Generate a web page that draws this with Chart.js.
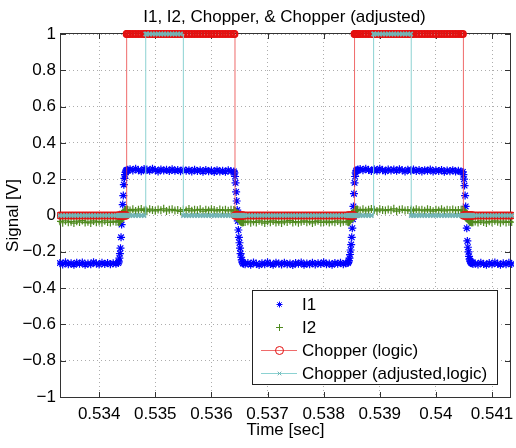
<!DOCTYPE html>
<html>
<head>
<meta charset="utf-8">
<script src="https://cdn.jsdelivr.net/npm/chart.js@4.4.1/dist/chart.umd.min.js"></script>
<style>
  html, body { margin: 0; padding: 0; background: #fff; }
  canvas { display: block; }
</style>
</head>
<body>
<canvas id="chart" width="516" height="448"></canvas>
<script>
const FONT = "'Liberation Sans', Arial, Helvetica, sans-serif";

const titleText = 'I1, I2, Chopper, & Chopper (adjusted)';
const xTitle = 'Time [sec]';
const yTitle = 'Signal [V]';
const seriesNames = ['I1', 'I2', 'Chopper (logic)', 'Chopper (adjusted,logic)'];

const xTicks = [0.534, 0.535, 0.536, 0.537, 0.538, 0.539, 0.540, 0.541];
const xTickLabels = ['0.534', '0.535', '0.536', '0.537', '0.538', '0.539', '0.54', '0.541'];
const yTicks = [-1, -0.8, -0.6, -0.4, -0.2, 0, 0.2, 0.4, 0.6, 0.8, 1];
const yTickLabels = ['\u22121', '\u22120.8', '\u22120.6', '\u22120.4', '\u22120.2', '0', '0.2', '0.4', '0.6', '0.8', '1'];

// sample times [sec]
const time = [
  // low
  0.5333, 0.53335, 0.5334, 0.53345, 0.5335, 0.53355, 0.5336, 0.53365, 0.5337, 0.53375,
  0.5338, 0.53385, 0.5339, 0.53395, 0.534, 0.53405, 0.5341, 0.53415, 0.5342, 0.53425,
  0.5343,
  // rising edge 1
  0.53434, 0.53435, 0.53436, 0.53437, 0.53438, 0.53439, 0.5344, 0.53441, 0.53442, 0.53443,
  0.53444, 0.53445, 0.53446, 0.53447, 0.53448, 0.53449, 0.5345, 0.53451,
  // high 1
  0.53455, 0.5346, 0.53465, 0.5347, 0.53475, 0.5348, 0.53483, 0.53485, 0.5349, 0.53495,
  0.535, 0.53505, 0.5351, 0.53515, 0.5352, 0.53525, 0.5353, 0.53535, 0.5354, 0.53545,
  0.5355, 0.53555, 0.5356, 0.53565, 0.5357, 0.53575, 0.5358, 0.53585, 0.5359, 0.53595,
  0.536, 0.53605, 0.5361, 0.53615, 0.5362, 0.53625, 0.5363, 0.53635,
  // falling edge 1
  0.5364, 0.53641, 0.53642, 0.53643, 0.53644, 0.53645, 0.53646, 0.53647, 0.53648, 0.53649,
  0.5365, 0.53651, 0.53652, 0.53653, 0.53654, 0.53655, 0.53656, 0.53657,
  // low
  0.5366, 0.53665, 0.5367, 0.53675, 0.5368, 0.53685, 0.5369, 0.53695, 0.537, 0.53705,
  0.5371, 0.53715, 0.5372, 0.53725, 0.5373, 0.53735, 0.5374, 0.53745, 0.5375, 0.53755,
  0.5376, 0.53765, 0.5377, 0.53775, 0.5378, 0.53785, 0.5379, 0.53795, 0.538, 0.53805,
  0.5381, 0.53815, 0.5382, 0.53825, 0.5383, 0.53835, 0.5384,
  // rising edge 2
  0.53843, 0.53844, 0.53845, 0.53846, 0.53847, 0.53848, 0.53849, 0.5385, 0.53851, 0.53852,
  0.53853, 0.53854, 0.53855, 0.53856, 0.53857, 0.53858, 0.53859, 0.5386, 0.53861,
  // high 2
  0.53865, 0.5387, 0.53875, 0.5388, 0.53885, 0.53889, 0.5389, 0.53895, 0.539, 0.53905,
  0.5391, 0.53915, 0.5392, 0.53925, 0.5393, 0.53935, 0.5394, 0.53945, 0.5395, 0.53955,
  0.53956, 0.5396, 0.53965, 0.5397, 0.53975, 0.5398, 0.53985, 0.5399, 0.53995, 0.54,
  0.54005, 0.5401, 0.54015, 0.5402, 0.54025, 0.5403, 0.54035, 0.5404, 0.54045,
  // falling edge 2
  0.54048, 0.54049, 0.5405, 0.54051, 0.54052, 0.54053, 0.54054, 0.54055, 0.54056, 0.54057,
  0.54058, 0.54059, 0.5406, 0.54061, 0.54062, 0.54063, 0.54064, 0.54065, 0.54066,
  // low
  0.5407, 0.54075, 0.5408, 0.54085, 0.5409, 0.54095, 0.541, 0.54105, 0.5411, 0.54115,
  0.5412, 0.54125, 0.5413, 0.54135
];

const i1 = [
  -0.262, -0.270, -0.258, -0.268, -0.263, -0.272, -0.260, -0.266, -0.259, -0.271,
  -0.264, -0.268, -0.257, -0.265, -0.270, -0.261, -0.267, -0.262, -0.269, -0.263,
  -0.266,
  -0.262, -0.255, -0.235, -0.21, -0.18, -0.12, -0.05, 0.01, 0.06, 0.11,
  0.17, 0.205, 0.225, 0.238, 0.245, 0.25, 0.247, 0.252,
  0.255, 0.248, 0.258, 0.250, 0.244, 0.256, 0.249, 0.253, 0.246, 0.257,
  0.250, 0.243, 0.254, 0.248, 0.252, 0.245, 0.255, 0.247, 0.251, 0.244,
  0.253, 0.246, 0.250, 0.242, 0.252, 0.245, 0.249, 0.241, 0.251, 0.244,
  0.248, 0.240, 0.250, 0.243, 0.247, 0.241, 0.249, 0.244,
  0.243, 0.235, 0.215, 0.18, 0.13, 0.08, 0.03, -0.03, -0.08, -0.12,
  -0.15, -0.18, -0.21, -0.23, -0.245, -0.255, -0.262, -0.266,
  -0.268, -0.262, -0.271, -0.259, -0.266, -0.273, -0.263, -0.269, -0.258, -0.267,
  -0.272, -0.261, -0.265, -0.270, -0.260, -0.268, -0.264, -0.273, -0.262, -0.266,
  -0.259, -0.271, -0.265, -0.268, -0.261, -0.270, -0.263, -0.267, -0.258, -0.269,
  -0.264, -0.272, -0.262, -0.266, -0.260, -0.268, -0.263,
  -0.262, -0.258, -0.25, -0.235, -0.215, -0.19, -0.16, -0.12, -0.07, -0.02,
  0.05, 0.12, 0.18, 0.215, 0.235, 0.245, 0.25, 0.248, 0.253,
  0.256, 0.249, 0.258, 0.251, 0.245, 0.250, 0.255, 0.247, 0.257, 0.250,
  0.244, 0.254, 0.248, 0.253, 0.246, 0.255, 0.249, 0.243, 0.252, 0.247,
  0.250, 0.254, 0.245, 0.251, 0.243, 0.250, 0.246, 0.253, 0.242, 0.249,
  0.245, 0.251, 0.241, 0.248, 0.244, 0.250, 0.242, 0.247, 0.243,
  0.24, 0.225, 0.2, 0.165, 0.11, 0.05, 0.0, -0.07, -0.14, -0.175,
  -0.2, -0.225, -0.24, -0.25, -0.256, -0.26, -0.263, -0.259, -0.267,
  -0.264, -0.270, -0.260, -0.267, -0.272, -0.262, -0.268, -0.259, -0.266, -0.271,
  -0.263, -0.269, -0.261, -0.267
];

const i2 = [
  -0.032, -0.040, -0.029, -0.037, -0.034, -0.042, -0.031, -0.036, -0.028, -0.039,
  -0.035, -0.041, -0.030, -0.037, -0.033, -0.040, -0.029, -0.036, -0.038, -0.031,
  -0.035,
  -0.034, -0.037, -0.033, -0.030, -0.026, -0.020, -0.012, -0.004, 0.004, 0.012,
  0.018, 0.023, 0.027, 0.029, 0.031, 0.028, 0.033, 0.030,
  0.027, 0.034, 0.025, 0.031, 0.036, 0.028, 0.032, 0.024, 0.035, 0.030,
  0.026, 0.033, 0.029, 0.037, 0.025, 0.031, 0.034, 0.027, 0.030, 0.023,
  0.033, 0.028, 0.036, 0.026, 0.031, 0.029, 0.034, 0.024, 0.032, 0.027,
  0.035, 0.030, 0.025, 0.033, 0.028, 0.031, 0.026, 0.032,
  0.030, 0.028, 0.025, 0.020, 0.014, 0.007, 0.000, -0.008, -0.015, -0.021,
  -0.026, -0.030, -0.033, -0.035, -0.037, -0.034, -0.038, -0.036,
  -0.036, -0.031, -0.040, -0.033, -0.038, -0.029, -0.035, -0.042, -0.032, -0.037,
  -0.030, -0.039, -0.034, -0.041, -0.031, -0.036, -0.028, -0.038, -0.033, -0.040,
  -0.035, -0.030, -0.037, -0.032, -0.041, -0.034, -0.029, -0.038, -0.036, -0.031,
  -0.039, -0.033, -0.037, -0.030, -0.040, -0.035, -0.032,
  -0.034, -0.037, -0.033, -0.031, -0.028, -0.024, -0.018, -0.011, -0.003, 0.005,
  0.012, 0.018, 0.023, 0.027, 0.029, 0.031, 0.028, 0.033, 0.030,
  0.028, 0.034, 0.026, 0.031, 0.036, 0.029, 0.032, 0.025, 0.035, 0.030,
  0.027, 0.033, 0.029, 0.037, 0.024, 0.031, 0.034, 0.028, 0.030, 0.025,
  0.033, 0.027, 0.035, 0.029, 0.031, 0.026, 0.034, 0.030, 0.024, 0.032,
  0.028, 0.035, 0.026, 0.031, 0.029, 0.033, 0.027, 0.030, 0.032,
  0.031, 0.029, 0.026, 0.021, 0.015, 0.008, 0.001, -0.007, -0.014, -0.020,
  -0.025, -0.029, -0.032, -0.034, -0.036, -0.033, -0.038, -0.035, -0.037,
  -0.033, -0.039, -0.030, -0.036, -0.041, -0.032, -0.037, -0.029, -0.035, -0.040,
  -0.031, -0.038, -0.034, -0.036
];

const chopper = [
  0, 0, 0, 0, 0, 0, 0, 0, 0, 0,
  0, 0, 0, 0, 0, 0, 0, 0, 0, 0,
  0,
  0, 0, 0, 0, 0, 0, 0, 0, 0, 0,
  0, 0, 0, 0, 0, 1, 1, 1,
  1, 1, 1, 1, 1, 1, 1, 1, 1, 1,
  1, 1, 1, 1, 1, 1, 1, 1, 1, 1,
  1, 1, 1, 1, 1, 1, 1, 1, 1, 1,
  1, 1, 1, 1, 1, 1, 1, 1,
  1, 1, 0, 0, 0, 0, 0, 0, 0, 0,
  0, 0, 0, 0, 0, 0, 0, 0,
  0, 0, 0, 0, 0, 0, 0, 0, 0, 0,
  0, 0, 0, 0, 0, 0, 0, 0, 0, 0,
  0, 0, 0, 0, 0, 0, 0, 0, 0, 0,
  0, 0, 0, 0, 0, 0, 0,
  0, 0, 0, 0, 0, 0, 0, 0, 0, 0,
  0, 0, 1, 1, 1, 1, 1, 1, 1,
  1, 1, 1, 1, 1, 1, 1, 1, 1, 1,
  1, 1, 1, 1, 1, 1, 1, 1, 1, 1,
  1, 1, 1, 1, 1, 1, 1, 1, 1, 1,
  1, 1, 1, 1, 1, 1, 1, 1, 1,
  1, 0, 0, 0, 0, 0, 0, 0, 0, 0,
  0, 0, 0, 0, 0, 0, 0, 0, 0,
  0, 0, 0, 0, 0, 0, 0, 0, 0, 0,
  0, 0, 0, 0
];

const chopperAdj = [
  0, 0, 0, 0, 0, 0, 0, 0, 0, 0,
  0, 0, 0, 0, 0, 0, 0, 0, 0, 0,
  0,
  0, 0, 0, 0, 0, 0, 0, 0, 0, 0,
  0, 0, 0, 0, 0, 0, 0, 0,
  0, 0, 0, 0, 0, 0, 1, 1, 1, 1,
  1, 1, 1, 1, 1, 1, 1, 1, 1, 1,
  0, 0, 0, 0, 0, 0, 0, 0, 0, 0,
  0, 0, 0, 0, 0, 0, 0, 0,
  0, 0, 0, 0, 0, 0, 0, 0, 0, 0,
  0, 0, 0, 0, 0, 0, 0, 0,
  0, 0, 0, 0, 0, 0, 0, 0, 0, 0,
  0, 0, 0, 0, 0, 0, 0, 0, 0, 0,
  0, 0, 0, 0, 0, 0, 0, 0, 0, 0,
  0, 0, 0, 0, 0, 0, 0,
  0, 0, 0, 0, 0, 0, 0, 0, 0, 0,
  0, 0, 0, 0, 0, 0, 0, 0, 0,
  0, 0, 0, 0, 0, 1, 1, 1, 1, 1,
  1, 1, 1, 1, 1, 1, 1, 1, 1, 1,
  0, 0, 0, 0, 0, 0, 0, 0, 0, 0,
  0, 0, 0, 0, 0, 0, 0, 0, 0,
  0, 0, 0, 0, 0, 0, 0, 0, 0, 0,
  0, 0, 0, 0, 0, 0, 0, 0, 0,
  0, 0, 0, 0, 0, 0, 0, 0, 0, 0,
  0, 0, 0, 0
];

[i1, i2, chopper, chopperAdj].forEach(a => {
  if (a.length !== time.length) console.error('length mismatch', a.length, time.length);
});

function points(vals) {
  return time.map((t, k) => ({ x: t, y: vals[k] }));
}

function drawMarker(ctx, style, x, y, r, color) {
  ctx.save();
  ctx.strokeStyle = color;
  ctx.lineWidth = 1;
  ctx.beginPath();
  if (style === 'circle') {
    ctx.arc(x, y, r, 0, Math.PI * 2);
  } else {
    if (style === 'cross' || style === 'star') {
      ctx.moveTo(x - r, y); ctx.lineTo(x + r, y);
      ctx.moveTo(x, y - r); ctx.lineTo(x, y + r);
    }
    if (style === 'crossRot' || style === 'star') {
      const d = r * 0.72;
      ctx.moveTo(x - d, y - d); ctx.lineTo(x + d, y + d);
      ctx.moveTo(x - d, y + d); ctx.lineTo(x + d, y - d);
    }
  }
  ctx.stroke();
  ctx.restore();
}

const legendRadius = [3, 3.5, 4, 2.5];

const matlabFrame = {
  id: 'matlabFrame',
  beforeDatasetsDraw(chart) {
    const { ctx, chartArea: a, scales } = chart;
    ctx.save();
    ctx.strokeStyle = '#333';
    ctx.lineWidth = 1;
    ctx.beginPath();
    xTicks.forEach(v => {
      const px = Math.round(scales.x.getPixelForValue(v)) + 0.5;
      ctx.moveTo(px, a.bottom); ctx.lineTo(px, a.bottom - 5);
      ctx.moveTo(px, a.top); ctx.lineTo(px, a.top + 5);
    });
    yTicks.forEach(v => {
      const py = Math.round(scales.y.getPixelForValue(v)) + 0.5;
      ctx.moveTo(a.left, py); ctx.lineTo(a.left + 5, py);
      ctx.moveTo(a.right, py); ctx.lineTo(a.right - 5, py);
    });
    ctx.stroke();
    ctx.strokeRect(a.left - 0.5, a.top - 0.5, a.right - a.left + 1, a.bottom - a.top + 1);
    ctx.restore();
  },
  afterDraw(chart) {
    const { ctx, chartArea: a } = chart;
    const cx = (a.left + a.right) / 2;
    ctx.save();
    ctx.fillStyle = '#000';
    ctx.font = '17px ' + FONT;
    ctx.textAlign = 'center';
    ctx.textBaseline = 'alphabetic';
    ctx.fillText(titleText, cx - 1, 22);
    ctx.fillText(xTitle, cx, 435);
    ctx.save();
    ctx.translate(17.5, (a.top + a.bottom) / 2);
    ctx.rotate(-Math.PI / 2);
    ctx.fillText(yTitle, 0, 0);
    ctx.restore();

    // legend box
    const box = { x: 253, y: 290, w: 245, h: 94 };
    ctx.fillStyle = '#fff';
    ctx.fillRect(box.x, box.y, box.w, box.h);
    ctx.strokeStyle = '#222';
    ctx.lineWidth = 1;
    ctx.strokeRect(box.x - 0.5, box.y + 0.5, box.w, box.h);
    ctx.textAlign = 'left';
    chart.data.datasets.forEach((ds, k) => {
      const y = box.y + 14 + k * 23;
      if (ds.showLine !== false) {
        ctx.strokeStyle = ds.borderColor;
        ctx.beginPath();
        ctx.moveTo(box.x + 8, y + 0.5);
        ctx.lineTo(box.x + 44, y + 0.5);
        ctx.stroke();
      }
      drawMarker(ctx, ds.pointStyle, box.x + 26.5, y + 0.5, legendRadius[k], ds.pointBorderColor);
      ctx.fillStyle = '#000';
      ctx.fillText(ds.label, box.x + 49, y + 6);
    });
    ctx.restore();
  }
};

const axisFont = { size: 17, family: FONT };
const clipBox = { left: 4, right: 4, top: 5, bottom: 5 };

const chart = new Chart(document.getElementById('chart'), {
  type: 'line',
  data: {
    datasets: [
      {
        label: seriesNames[0],
        data: points(i1),
        showLine: false,
        pointStyle: 'star',
        pointRadius: 4,
        pointBorderWidth: 1.2,
        pointBorderColor: '#0000ff',
        borderColor: '#0000ff',
        clip: clipBox,
        order: 4
      },
      {
        label: seriesNames[1],
        data: points(i2),
        showLine: false,
        pointStyle: 'cross',
        pointRadius: 4,
        pointBorderWidth: 1.2,
        pointBorderColor: '#4f8a1f',
        borderColor: '#4f8a1f',
        clip: clipBox,
        order: 3
      },
      {
        label: seriesNames[2],
        data: points(chopper),
        stepped: true,
        borderColor: 'rgba(235,70,70,0.8)',
        borderWidth: 1,
        pointStyle: 'circle',
        pointRadius: 3,
        pointBorderWidth: 2,
        pointBorderColor: '#e41010',
        pointBackgroundColor: 'rgba(0,0,0,0)',
        clip: clipBox,
        order: 2
      },
      {
        label: seriesNames[3],
        data: points(chopperAdj),
        stepped: true,
        borderColor: '#8cd2d2',
        borderWidth: 1,
        pointStyle: 'crossRot',
        pointRadius: 3,
        pointBorderWidth: 1.5,
        pointBorderColor: '#72b4b4',
        clip: clipBox,
        order: 1
      }
    ]
  },
  options: {
    responsive: false,
    animation: false,
    devicePixelRatio: 1,
    layout: { padding: { top: 34, right: 3, left: 0, bottom: 0 } },
    plugins: {
      legend: { display: false },
      title: { display: false },
      tooltip: { enabled: false }
    },
    scales: {
      x: {
        type: 'linear',
        min: 0.53332,
        max: 0.54132,
        afterBuildTicks: s => { s.ticks = xTicks.map(v => ({ value: v })); },
        afterFit: s => { s.height = 51; s.paddingLeft = 0; s.paddingRight = 0; },
        ticks: {
          callback: (v, k) => xTickLabels[k],
          color: '#000',
          font: axisFont,
          padding: 7,
          maxRotation: 0,
          autoSkip: false
        },
        grid: { color: 'rgba(0,0,0,0.32)', lineWidth: 1, drawTicks: false },
        border: { display: false, dash: [1, 3] }
      },
      y: {
        type: 'linear',
        min: -1,
        max: 1,
        afterBuildTicks: s => { s.ticks = yTicks.map(v => ({ value: v })); },
        afterFit: s => { s.width = 61; s.paddingTop = 0; s.paddingBottom = 0; },
        ticks: {
          callback: (v, k) => yTickLabels[k],
          color: '#000',
          font: axisFont,
          padding: 5,
          autoSkip: false
        },
        grid: { color: 'rgba(0,0,0,0.32)', lineWidth: 1, drawTicks: false },
        border: { display: false, dash: [1, 3] }
      }
    }
  },
  plugins: [matlabFrame]
});
</script>
</body>
</html>
